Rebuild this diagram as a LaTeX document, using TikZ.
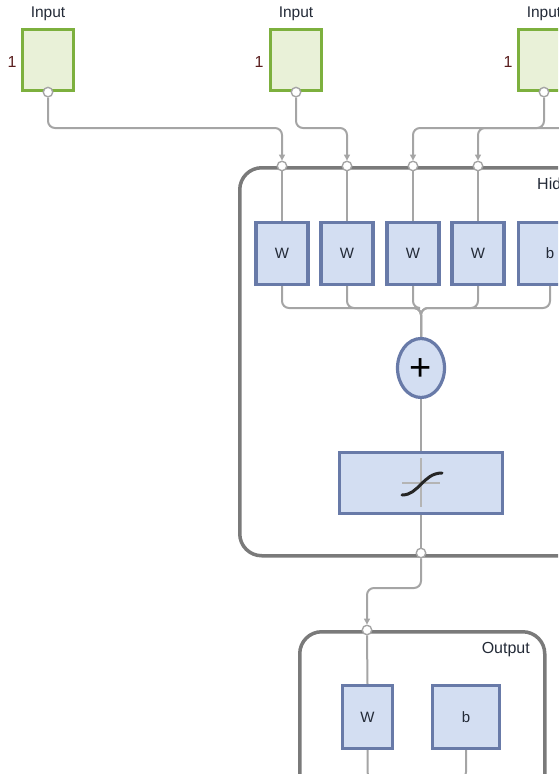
\documentclass[tikz,border=0pt]{standalone}
\usepackage{fontspec}
\setmainfont{Liberation Sans}
\usetikzlibrary{arrows.meta,shapes.geometric,calc,backgrounds}
\definecolor{ingreen}{RGB}{125,176,62}
\definecolor{infill}{RGB}{233,241,216}
\definecolor{bborder}{RGB}{104,122,168}
\definecolor{bfill}{RGB}{211,222,242}
\definecolor{framegray}{RGB}{122,122,122}
\definecolor{wiregray}{RGB}{165,165,165}
\definecolor{labelcol}{RGB}{35,42,55}
\definecolor{onecol}{RGB}{90,30,30}
\definecolor{crossgray}{RGB}{180,180,180}
\begin{document}
\begin{tikzpicture}[x=1pt,y=-1pt,
  inbox/.style={draw=ingreen, fill=infill, line width=3.2pt, minimum width=51pt, minimum height=61pt, inner sep=0pt},
  wbox/.style={draw=bborder, fill=bfill, line width=3.2pt, minimum width=52pt, minimum height=62pt, inner sep=0pt, text=labelcol, font=\fontsize{15}{17}\selectfont},
  sumnode/.style={ellipse, draw=bborder, fill=bfill, line width=3.2pt, minimum width=47pt, minimum height=59pt, inner sep=0pt},
  framebox/.style={draw=framegray, line width=3.5pt, rounded corners=22pt, inner sep=0pt},
  wire/.style={draw=wiregray, line width=2pt, rounded corners=7pt},
  arr/.style={-{Triangle[length=6pt,width=6pt]}},
  junc/.style={circle, draw=wiregray, fill=white, line width=1.4pt, minimum size=9.5pt, inner sep=0pt},
  lbl/.style={text=labelcol, font=\fontsize{15.5}{17}\selectfont, inner sep=0pt},
  onelbl/.style={text=onecol, font=\fontsize{16}{18}\selectfont, inner sep=0pt}
]
\useasboundingbox (0,0) rectangle (558,774);
\clip (0,0) rectangle (558,774);

% frames
\node[framebox, minimum width=402pt, minimum height=388pt, anchor=north west] (hidden) at (238,166) {};
\node[framebox, minimum width=245pt, minimum height=300pt, anchor=north west] (outframe) at (298,630) {};
\node[lbl, anchor=west, font=\fontsize{16}{18}\selectfont] (hidlbl) at (537,184) {Hidden};
\node[lbl, anchor=east, font=\fontsize{16}{18}\selectfont] (outlbl) at (530,650) {Output};

% inputs
\node[inbox] (in1) at (48,60) {};
\node[inbox] (in2) at (296,60) {};
\node[inbox] (in3) at (544,60) {};
\node[lbl] (t1) at (48,14) {Input};
\node[lbl] (t2) at (296,14) {Input};
\node[lbl] (t3) at (544,14) {Input};
\node[onelbl] (n1) at (12,62) {1};
\node[onelbl] (n2) at (259,62) {1};
\node[onelbl] (n3) at (508,62) {1};
\node[junc] (o1) at (in1.south) {};
\node[junc] (o2) at (in2.south) {};
\node[junc] (o3) at (in3.south) {};

% hidden layer
\node[wbox] (W1) at (282,253.5) {W};
\node[wbox] (W2) at (347,253.5) {W};
\node[wbox] (W3) at (413,253.5) {W};
\node[wbox] (W4) at (478,253.5) {W};
\node[wbox, minimum width=63pt] (B1) at (550,253.5) {b};
\node[sumnode] (sum) at (421,368) {};
\node[text=black, inner sep=0pt, font=\fontsize{38}{38}\selectfont, yshift=-2pt] (plus) at (sum.center) {+};
\node[wbox, minimum width=163pt, minimum height=61pt] (ts) at (421,483) {};
\draw[crossgray, line width=2.8pt] ($(ts.center)+(0,-25)$) -- ($(ts.center)+(0,24)$);
\draw[crossgray, line width=2.8pt] ($(ts.center)+(-19,0)$) -- ($(ts.center)+(19,0)$);
\draw[black!85, line width=3pt, line cap=round] ($(ts.center)+(-19,12)$) .. controls ($(ts.center)+(-2,12)$) and ($(ts.center)+(2,-10)$) .. ($(ts.center)+(21,-10)$);

% junctions on hidden frame
\node[junc] (j1) at (282,166) {};
\node[junc] (j2) at (347,166) {};
\node[junc] (j3) at (413,166) {};
\node[junc] (j4) at (478,166) {};
\node[junc] (jb) at (421,553) {};

% output layer
\node[junc] (jo) at (367,630) {};
\node[wbox, minimum width=50pt, minimum height=63pt] (OW) at (367.5,717) {W};
\node[wbox, minimum width=67pt, minimum height=63pt] (OB) at (466,717) {b};

% wires
\coordinate (busA) at (0,128);
\coordinate (busB) at (0,308);
\coordinate (busC) at (0,588);
\coordinate (busD) at (0,779);
\coordinate (in4) at (640,128);
\begin{scope}[on background layer]
\draw[wire, arr] (o1.south) -- (o1 |- busA) -- (j1 |- busA) -- (j1.north);
\draw[wire, arr] (o2.south) -- (o2 |- busA) -- (j2 |- busA) -- (j2.north);
\draw[wire, arr] (in4) -- (j4 |- busA) -- (j4.north);
\draw[wire, arr] (o3.south) -- (o3 |- busA) -- (j3 |- busA) -- (j3.north);
\draw[wire] (j1.south) -- (W1.north);
\draw[wire] (j2.south) -- (W2.north);
\draw[wire] (j3.south) -- (W3.north);
\draw[wire] (j4.south) -- (W4.north);
\foreach \b in {W1,W2,W3,W4,B1} {
  \draw[wire] (\b.south) -- (\b |- busB) -- (sum |- busB) -- (sum.north);
}
\draw[wire] (sum.south) -- (ts.north);
\draw[wire] (ts.south) -- (jb.north);
\draw[wire, arr] (jb.south) -- (jb |- busC) -- (jo |- busC) -- (jo.north);
\draw[wire] (jo.south) -- (OW.north);
\draw[wire] (OW.south) -- (OW |- busD) -- ++(50,0);
\draw[wire] (OB.south) -- (OB |- busD) -- ++(-50,0);
\end{scope}
\end{tikzpicture}
\end{document}
